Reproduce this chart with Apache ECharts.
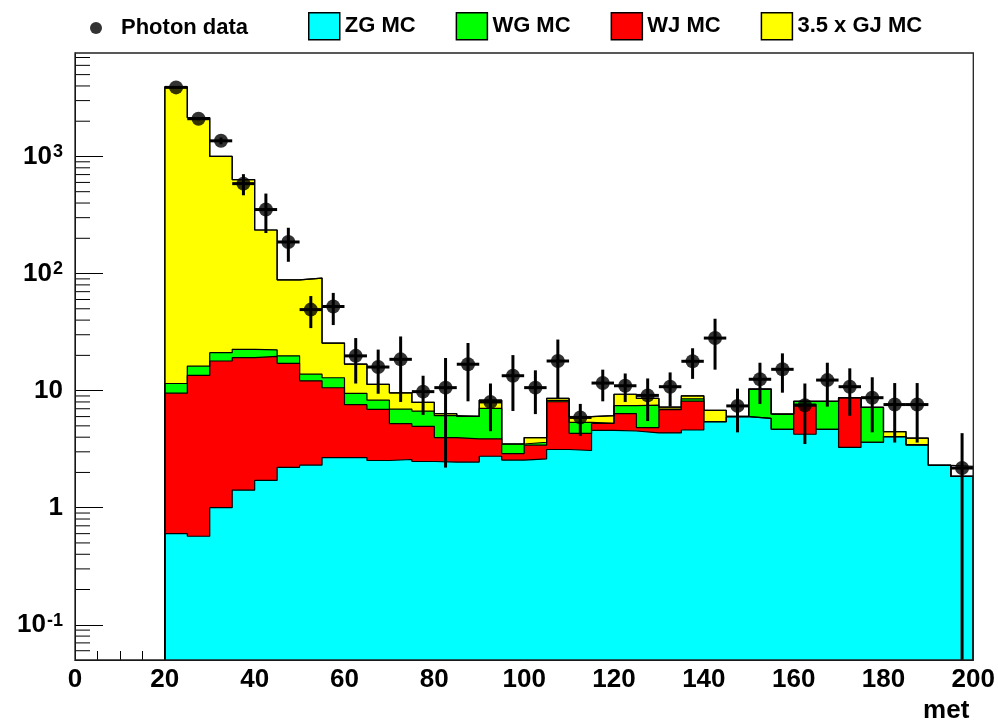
<!DOCTYPE html>
<html><head><meta charset="utf-8">
<script src="https://cdn.jsdelivr.net/npm/echarts@6/dist/echarts.min.js"></script>
<style>html,body{margin:0;padding:0;background:#fff}#c{width:998px;height:724px}</style>
</head><body><div id="c"></div>
<script>
// ---- data (bin lower edges, bin width 5) ----
const binLow = [20,25,30,35,40,45,50,55,60,65,70,75,80,85,90,95,100,105,110,115,120,125,130,135,140,145,150,155,160,165,170,175,180,185,190,195];
const binWidth = 5;
const zgMC = [0.60,0.57,1.00,1.41,1.71,2.21,2.31,2.68,2.68,2.53,2.58,2.48,2.45,2.45,2.75,2.55,2.61,3.14,3.08,4.58,4.52,4.35,4.35,4.61,5.43,5.99,5.79,4.67,4.24,4.67,3.27,3.62,4.05,3.44,2.30,1.85];
const wjMC = [8.9,12.9,16.9,17.7,17.9,14.9,9.8,7.9,4.9,4.37,2.64,2.47,1.52,1.42,1.12,0.35,0.81,4.89,1.24,0.67,1.83,0.48,2.52,3.52,0,0,0,0,3.38,0,5.42,0,0,0,0,0];
const wgMC = [2.0,2.7,3.2,3.4,2.7,2.7,1.7,2.3,1.9,1.38,1.73,1.73,2.14,2.16,3.18,0.60,0.20,0.21,1.04,0,1.08,2.68,0.08,0.37,0,0,4.51,1.63,0.46,3.46,0,3.56,0,0,0,0];
const gjMC = [3923,2128,979,612,213,68.6,77.6,12.6,7.35,3.02,2.62,1.24,0.24,0,1.24,0,0.35,0.33,0.63,0.86,1.88,1.06,0.28,0.53,1.35,0.05,0,0,0,0,0,0,0.42,0.48,0,0];
const unfilled = [0,0,0,0,0,0,0,0,0,0,0,0,0,0,0,0,0,0,0,0,0,0,0,0,0,0,0,0,0,0,0,0,0,0,0,0.40];
const photon = [3890,2100,1360,586,352,186,49.2,52.3,19.8,15.9,18.5,9.8,10.6,16.8,8.0,13.4,10.6,17.9,5.9,11.6,11.0,9.1,10.8,17.8,28.1,7.4,12.5,15.2,7.5,12.3,10.8,8.7,7.6,7.6,null,2.18];
const photonErr = [70,60,90,120,130,60,15,16,8.3,6.5,10.5,3.6,8.4,8.7,3.5,6.7,4.3,9.4,1.8,3.5,3.0,3.6,3.5,5.2,13,3.0,4.8,5.6,4.0,5.0,4.7,4.3,4.0,4.0,null,2.15];
const yTickValues = [0.1,1,10,100,1000];
const yTickLabels = ['10{s|-1}','1','10','10{s|2}','10{s|3}'];
const legendNames = ['Photon data','ZG MC','WG MC','WJ MC','3.5 x GJ MC'];
const yMin = 0.05, yMax = 7650, xMin = 0, xMax = 200;

const FONT = "'Liberation Sans', Arial, Helvetica, sans-serif";
const cyan = '#00ffff', green = '#00ff00', red = '#ff0000', yellow = '#ffff00';

function cumulate(base, add) { return base.map((v, i) => v + add[i]); }
const c1 = zgMC.slice();
const c2 = cumulate(c1, wjMC);
const c3 = cumulate(c2, wgMC);
const c4 = cumulate(c3, gjMC);
const c5 = cumulate(c4, unfilled);

function outline(cum) {
  const pts = [[binLow[0], yMin]];
  for (let i = 0; i < binLow.length; i++) {
    pts.push([binLow[i], cum[i]]);
    pts.push([binLow[i] + binWidth, cum[i]]);
  }
  pts.push([binLow[binLow.length - 1] + binWidth, yMin]);
  return pts;
}
function histSeries(name, cum, fill) {
  return {
    name: name, type: 'line', data: outline(cum), symbol: 'none', showSymbol: false,
    lineStyle: { color: '#000', width: 1.2 }, itemStyle: { color: fill },
    areaStyle: { color: fill, opacity: 1, origin: 'start' },
    silent: true, z: 2
  };
}

const pointData = [], errData = [];
for (let i = 0; i < binLow.length; i++) {
  if (photon[i] == null) continue;
  const xc = binLow[i] + binWidth / 2;
  pointData.push([xc, photon[i]]);
  errData.push([xc, photon[i], photonErr[i]]);
}

// minor log ticks (axis decoration)
const minorTicks = [];
for (let d = -2; d <= 3; d++) {
  for (let m = 2; m <= 9; m++) {
    const v = m * Math.pow(10, d);
    if (v > yMin && v < yMax) minorTicks.push([xMin, v]);
  }
}

const chart = echarts.init(document.getElementById('c'), null, { renderer: 'canvas' });
const textBase = { fontFamily: FONT, fontWeight: 'bold', color: '#000' };

chart.setOption({
  animation: false,
  backgroundColor: '#fff',
  grid: { left: 75, right: 21, top: 53, bottom: 61, containLabel: false },
  legend: [
    {
      data: [{ name: legendNames[0], icon: 'circle', itemStyle: { color: '#000' } }],
      left: 85, top: 12, itemWidth: 40, itemHeight: 12, selectedMode: false,
      textStyle: Object.assign({ fontSize: 22 }, textBase)
    },
    {
      data: [
        { name: legendNames[1], icon: 'rect', itemStyle: { color: cyan, borderColor: '#000', borderWidth: 1.5 } },
        { name: legendNames[2], icon: 'rect', itemStyle: { color: green, borderColor: '#000', borderWidth: 1.5 } },
        { name: legendNames[3], icon: 'rect', itemStyle: { color: red, borderColor: '#000', borderWidth: 1.5 } },
        { name: legendNames[4], icon: 'rect', itemStyle: { color: yellow, borderColor: '#000', borderWidth: 1.5 } }
      ],
      left: 303, top: 7, itemWidth: 31, itemHeight: 27, itemGap: 40, selectedMode: false,
      textStyle: Object.assign({ fontSize: 22, padding: [4, 0, 0, 0] }, textBase)
    }
  ],
  xAxis: {
    type: 'value', min: xMin, max: xMax, interval: 20,
    axisLine: { show: true, lineStyle: { color: '#000', width: 1 } },
    axisTick: { show: true, inside: true, length: 18, lineStyle: { color: '#000', width: 1 } },
    minorTick: { show: true, splitNumber: 4, length: 9, lineStyle: { color: '#000', width: 1 } },
    splitLine: { show: false }, minorSplitLine: { show: false },
    axisLabel: Object.assign({ margin: 7, fontSize: 26 }, textBase),
    name: 'met', nameLocation: 'end', nameGap: -4,
    nameTextStyle: Object.assign({ fontSize: 26, align: 'right', verticalAlign: 'top', padding: [38, 0, 0, 0] }, textBase)
  },
  yAxis: {
    type: 'log', logBase: 10, min: yMin, max: yMax,
    axisLine: { show: true, lineStyle: { color: '#000', width: 1 } },
    axisTick: { show: true, inside: true, length: 28, lineStyle: { color: '#000', width: 1 } },
    splitLine: { show: false },
    axisLabel: Object.assign({
      margin: 12, fontSize: 26, showMinLabel: false, showMaxLabel: false,
      formatter: function (v) {
        for (let k = 0; k < yTickValues.length; k++) {
          if (Math.abs(Math.log10(v) - Math.log10(yTickValues[k])) < 1e-6) return yTickLabels[k];
        }
        return '';
      },
      rich: { s: { fontSize: 18, fontWeight: 'bold', fontFamily: FONT, color: '#000', verticalAlign: 'top', padding: [0, 0, 6, 1] } }
    }, textBase)
  },
  series: [
    histSeries('unfilled', c5, '#ffffff'),
    histSeries(legendNames[4], c4, yellow),
    histSeries(legendNames[2], c3, green),
    histSeries(legendNames[3], c2, red),
    histSeries(legendNames[1], c1, cyan),
    {
      name: 'errors', type: 'custom', data: errData, z: 5, silent: true, clip: true,
      renderItem: function (params, api) {
        const x = api.value(0), v = api.value(1), e = api.value(2);
        const hi = Math.min(v + e, yMax), lo = Math.max(v - e, yMin);
        const pHi = api.coord([x, hi]), pLo = api.coord([x, lo]);
        const pL = api.coord([x - binWidth / 2, v]), pR = api.coord([x + binWidth / 2, v]);
        return {
          type: 'group', children: [
            { type: 'line', shape: { x1: pHi[0], y1: pHi[1], x2: pLo[0], y2: pLo[1] }, style: { stroke: '#000', lineWidth: 3 } },
            { type: 'line', shape: { x1: pL[0], y1: pL[1], x2: pR[0], y2: pR[1] }, style: { stroke: '#000', lineWidth: 3 } }
          ]
        };
      }
    },
    {
      name: legendNames[0], type: 'scatter', data: pointData, symbol: 'circle', symbolSize: 14,
      itemStyle: { color: '#000' }, z: 6, silent: true
    },
    {
      name: 'minorTicks', type: 'custom', data: minorTicks, z: 7, silent: true, clip: false,
      renderItem: function (params, api) {
        const p = api.coord([api.value(0), api.value(1)]);
        return { type: 'line', shape: { x1: p[0], y1: p[1], x2: p[0] + 15, y2: p[1] }, style: { stroke: '#000', lineWidth: 1 } };
      }
    },
    {
      name: 'frame', type: 'custom', data: [[xMin, yMax]], z: 8, silent: true, clip: false,
      renderItem: function (params, api) {
        const tl = api.coord([xMin, yMax]), br = api.coord([xMax, yMin]);
        return { type: 'rect', shape: { x: tl[0], y: tl[1], width: br[0] - tl[0], height: br[1] - tl[1] }, style: { fill: 'none', stroke: '#222', lineWidth: 1.3 } };
      }
    }
  ]
});
</script></body></html>
